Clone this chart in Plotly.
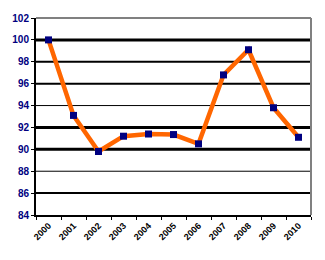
import plotly.graph_objects as go

years = ["2000", "2001", "2002", "2003", "2004", "2005", "2006", "2007", "2008", "2009", "2010"]
values = [100.0, 93.1, 89.8, 91.2, 91.4, 91.35, 90.5, 96.8, 99.1, 93.8, 91.1]
y_ticks = [84, 86, 88, 90, 92, 94, 96, 98, 100, 102]
grid_widths = [0, 2, 1, 3, 3, 1, 2, 2, 3, 0]

fig = go.Figure()
fig.add_trace(go.Scatter(
    x=years, y=values, mode="lines+markers",
    line=dict(color="#FF6600", width=4.5),
    marker=dict(symbol="square", size=7, color="#000080"),
    cliponaxis=False,
))

shapes = []
for yv, w in zip(y_ticks, grid_widths):
    if w > 0:
        shapes.append(dict(type="line", xref="paper", yref="y", x0=0, x1=1, y0=yv, y1=yv,
                           line=dict(color="black", width=w), layer="below"))
shapes.append(dict(type="line", xref="paper", yref="paper", x0=0, x1=1, y0=1, y1=1,
                   line=dict(color="#808080", width=2)))
shapes.append(dict(type="line", xref="paper", yref="paper", x0=1, x1=1, y0=0, y1=1,
                   line=dict(color="#808080", width=2)))

fig.update_layout(
    width=325, height=260,
    margin=dict(l=34, r=14, t=15, b=45),
    paper_bgcolor="white", plot_bgcolor="white",
    showlegend=False,
    shapes=shapes,
    xaxis=dict(
        type="category", range=[-0.5, 10.5],
        showgrid=False, showline=True, linecolor="black", linewidth=2,
        ticks="outside", ticklen=3, tickcolor="black",
        tickson="boundaries",
        tickangle=-45,
        tickfont=dict(family="Liberation Sans", size=9, color="black", weight="bold"),
    ),
    yaxis=dict(
        range=[84, 102], tickvals=y_ticks,
        showgrid=False, zeroline=False,
        showline=True, linecolor="black", linewidth=2,
        ticks="outside", ticklen=3, tickcolor="black",
        tickfont=dict(family="Liberation Sans", size=10, color="#000080", weight="bold"),
    ),
)
fig.write_html("out.html")
